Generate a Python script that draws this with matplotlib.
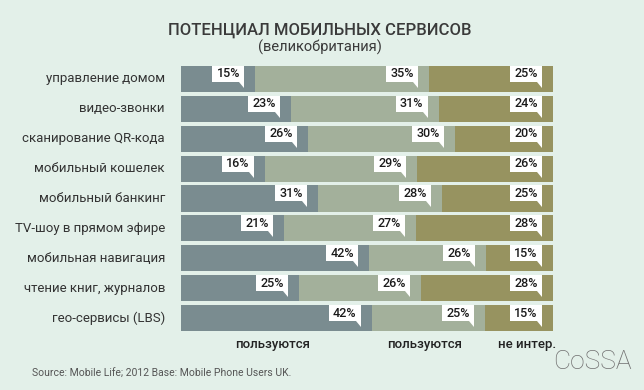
import numpy as np
import matplotlib.pyplot as plt
from matplotlib.patches import Rectangle, Polygon

plt.rcParams['font.family'] = ['Roboto', 'DejaVu Sans']

services = ['управление домом', 'видео-звонки', 'сканирование QR-кода',
            'мобильный кошелек', 'мобильный банкинг', 'TV-шоу в прямом эфире',
            'мобильная навигация', 'чтение книг, журналов', 'гео-сервисы (LBS)']
use_now = [15, 23, 26, 16, 31, 21, 42, 25, 42]
use_later = [35, 31, 30, 29, 28, 27, 26, 26, 25]
not_interested = [25, 24, 20, 26, 25, 28, 15, 28, 15]
group_labels = ['пользуются', 'пользуются', 'не интер.']

bg = '#e3f0e9'
colors = ['#7a8c90', '#a3b09b', '#979360']

fig = plt.figure(figsize=(6.44, 3.9), dpi=100, facecolor=bg)
ax = fig.add_axes([181 / 644, 1 - 333 / 390, 372 / 644, 269 / 390])
ax.set_facecolor(bg)
ax.set_xlim(0, 100)
ax.set_ylim(8.5, -0.5)
ax.axis('off')

vals = np.array([use_now, use_later, not_interested], dtype=float).T
shares = vals / vals.sum(axis=1, keepdims=True) * 100
y = np.arange(len(services))
h = 0.87

# pixel -> data units
xpx = 100 / 372
ypx = 9 / 269

left = np.zeros(len(services))
for k in range(3):
    ax.barh(y, shares[:, k], left=left, height=h, color=colors[k], linewidth=0)
    ends = left + shares[:, k]
    for r in range(len(services)):
        right = ends[r] - 11 * xpx
        top = r - h / 2
        bw, bh = 32 * xpx, 16 * ypx
        ax.add_patch(Rectangle((right - bw, top), bw, bh, fc='white', ec='none', zorder=3))
        bottom = top + bh
        ax.add_patch(Polygon([(right - 5 * xpx, bottom), (right, bottom),
                              (right, bottom + 6 * ypx)], closed=True,
                             fc='white', ec='none', zorder=3))
        ax.text(right - bw / 2, top + bh / 2, '%d%%' % vals[r, k], ha='center', va='center',
                fontsize=9, fontweight='medium', color='#1a1a1a', zorder=4)
    left = ends

for r, name in enumerate(services):
    ax.text(-16 * xpx, r, name, ha='right', va='center', fontsize=9.5, color='#333333')

for xf, lab in zip([0.245, 0.656, 0.93], group_labels):
    ax.text(xf, -0.02, lab, transform=ax.transAxes, ha='center', va='top',
            fontsize=9.5, fontweight='medium', color='#222222')

fig.text(0.497, 1 - 30 / 390, 'ПОТЕНЦИАЛ МОБИЛЬНЫХ СЕРВИСОВ', ha='center', va='center',
         fontsize=12, fontweight='medium', color='#3a3a3a')
fig.text(0.497, 1 - 47 / 390, '(великобритания)', ha='center', va='center',
         fontsize=10.5, color='#3a3a3a')
fig.text(32 / 644, 1 - 374 / 390, 'Source: Mobile Life; 2012 Base: Mobile Phone Users UK.',
         ha='left', va='center', fontsize=7.5, color='#555555')
fig.text(592 / 644, 1 - 362 / 390, 'CoSSA', ha='center', va='center',
         fontsize=19, fontweight='light', color='#707070')

fig.savefig('out.png', dpi=100, facecolor=bg)
